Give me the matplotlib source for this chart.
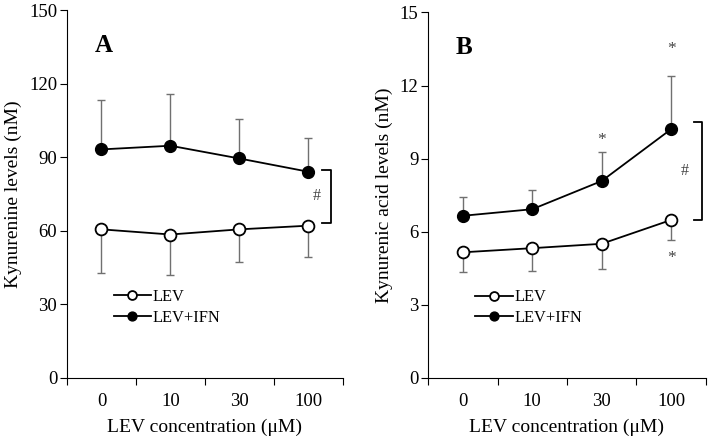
import numpy as np
import matplotlib
matplotlib.use('Agg')
from matplotlib import pyplot as plt

#Data
concentrations = ['0', '10', '30', '100']
kynLev = [60.6, 58.5, 60.6, 62.1]
kynLevErr = [17.9, 16.7, 13.3, 12.6]
kynIfn = [93.2, 94.7, 89.5, 84.1]
kynIfnErr = [20.1, 20.9, 16.1, 13.9]
kynaLev = [5.15, 5.32, 5.50, 6.48]
kynaLevErr = [0.82, 0.94, 1.05, 0.82]
kynaIfn = [6.65, 6.92, 8.08, 10.21]
kynaIfnErr = [0.79, 0.77, 1.18, 2.20]

plt.rcParams['font.family'] = ['Liberation Serif', 'DejaVu Serif']
plt.rcParams['font.size'] = 13.5

fig = plt.figure(figsize=(7.09, 4.40), dpi=100)
axA = fig.add_axes([0.0945, 0.141, 0.389, 0.836])
axB = fig.add_axes([0.6037, 0.1416, 0.392, 0.830])

errColor = '#707070'
x = np.arange(len(concentrations)) + 0.5

def drawPanel(ax, lev, levErr, ifn, ifnErr, ymax, ystep, ylabel, letter):
    #one-sided error bars: down for LEV, up for LEV+IFN
    ax.errorbar(x, lev, yerr=[levErr, np.zeros(len(lev))], fmt='none', ecolor=errColor, elinewidth=1, capsize=3, capthick=1, zorder=1)
    ax.errorbar(x, ifn, yerr=[np.zeros(len(ifn)), ifnErr], fmt='none', ecolor=errColor, elinewidth=1, capsize=3, capthick=1, zorder=1)
    ax.plot(x, lev, color='black', lw=1.3, marker='o', markersize=8.5, markerfacecolor='white', markeredgecolor='black', markeredgewidth=1.3, label='LEV', zorder=3)
    ax.plot(x, ifn, color='black', lw=1.3, marker='o', markersize=8.5, markerfacecolor='black', markeredgecolor='black', label='LEV+IFN', zorder=3)
    ax.set_xlim(0, len(concentrations))
    ax.set_ylim(0, ymax)
    ax.set_yticks(np.arange(0, ymax + ystep / 2, ystep))
    ax.set_xticks(np.arange(0, len(concentrations) + 1))
    ax.set_xticklabels([])
    ax.set_xticks(x, minor=True)
    ax.set_xticklabels(concentrations, minor=True)
    ax.tick_params(axis='x', which='minor', length=0, pad=11, labelsize=13.5)
    ax.tick_params(axis='x', which='major', length=5, direction='out')
    ax.tick_params(axis='y', length=5, direction='out', pad=2, labelsize=13.5)
    for s in ['top', 'right']:
        ax.spines[s].set_visible(False)
    ax.set_xlabel('LEV concentration (\u03bcM)', fontsize=14, labelpad=6)
    ax.set_ylabel(ylabel, fontsize=14, labelpad=5)
    ax.text(0.1, 0.905, letter, transform=ax.transAxes, fontsize=18, fontweight='bold', ha='left', va='center')
    ax.legend(loc='upper left', bbox_to_anchor=(0.145, 0.26), frameon=False, handlelength=2.3, handletextpad=0.1, labelspacing=0.3, markerscale=0.75, fontsize=11.8, borderaxespad=0)

drawPanel(axA, kynLev, kynLevErr, kynIfn, kynIfnErr, 150, 30, 'Kynurenine levels (nM)', 'A')
drawPanel(axB, kynaLev, kynaLevErr, kynaIfn, kynaIfnErr, 15, 3, 'Kynurenic acid levels (nM)', 'B')

#Significance brackets between last points
def bracket(ax, x0, x1, top, bottom, xh):
    ax.plot([x0, x1, x1, x0], [top, top, bottom, bottom], color='black', lw=1.3, clip_on=False)
    ax.text(xh, (top + bottom) / 2, '#', ha='center', va='center', fontsize=11.5, color='#444444')

bracket(axA, 3.70, 3.83, kynIfn[-1] + 0.6, kynLev[-1] + 1.2, 3.62)
bracket(axB, 3.83, 3.94, kynaIfn[-1] + 0.3, kynaLev[-1], 3.69)

#Asterisks in panel B
axB.text(x[2], kynaIfn[2] + kynaIfnErr[2] + 0.5, '*', ha='center', va='center', fontsize=12.5, color='#444444')
axB.text(x[3], kynaIfn[3] + kynaIfnErr[3] + 1.1, '*', ha='center', va='center', fontsize=12.5, color='#444444')
axB.text(x[3], kynaLev[3] - kynaLevErr[3] - 0.75, '*', ha='center', va='center', fontsize=12.5, color='#444444')

fig.savefig('out.png', dpi=100)
plt.close('all')
